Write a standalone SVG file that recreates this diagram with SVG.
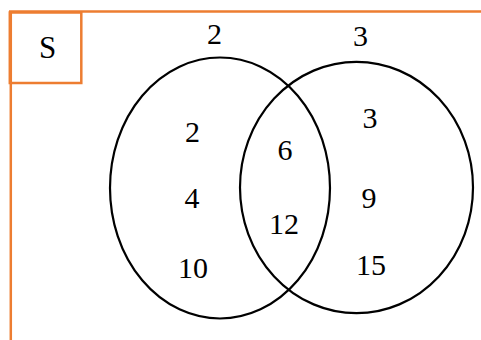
<svg xmlns="http://www.w3.org/2000/svg" width="481" height="340" viewBox="0 0 481 340">
<style>
.frame{fill:none;stroke:#ED7D31;stroke-width:2.5}
.set{fill:none;stroke:#000;stroke-width:2.2}
.t{font-family:'Liberation Serif','Times New Roman',serif;font-size:30px;fill:#000;text-anchor:middle}
</style>
<rect width="481" height="340" fill="#fff"/>
<g id="universe">
<line class="frame" x1="9" y1="11.5" x2="481" y2="11.5"/>
<line class="frame" x1="10.8" y1="11.5" x2="10.8" y2="340"/>
</g>
<g id="label-S">
<rect class="frame" x="9.8" y="12.5" width="71.5" height="70.5"/>
<text class="t" x="47.5" y="57.5" style="font-size:31px">S</text>
</g>
<g id="set-A">
<ellipse class="set" cx="220" cy="188" rx="110" ry="130.5"/>
<text class="t" x="214.5" y="43.5">2</text>
<text class="t" x="192.5" y="141.5">2</text>
<text class="t" x="192" y="208">4</text>
<text class="t" x="193" y="278">10</text>
</g>
<g id="set-B">
<ellipse class="set" cx="356.5" cy="187.5" rx="116.5" ry="125.7"/>
<text class="t" x="360.5" y="46">3</text>
<text class="t" x="370" y="128">3</text>
<text class="t" x="369" y="208">9</text>
<text class="t" x="371" y="275">15</text>
</g>
<g id="intersection">
<text class="t" x="285" y="160">6</text>
<text class="t" x="284" y="234">12</text>
</g>
<g id="connectors"></g>
</svg>
